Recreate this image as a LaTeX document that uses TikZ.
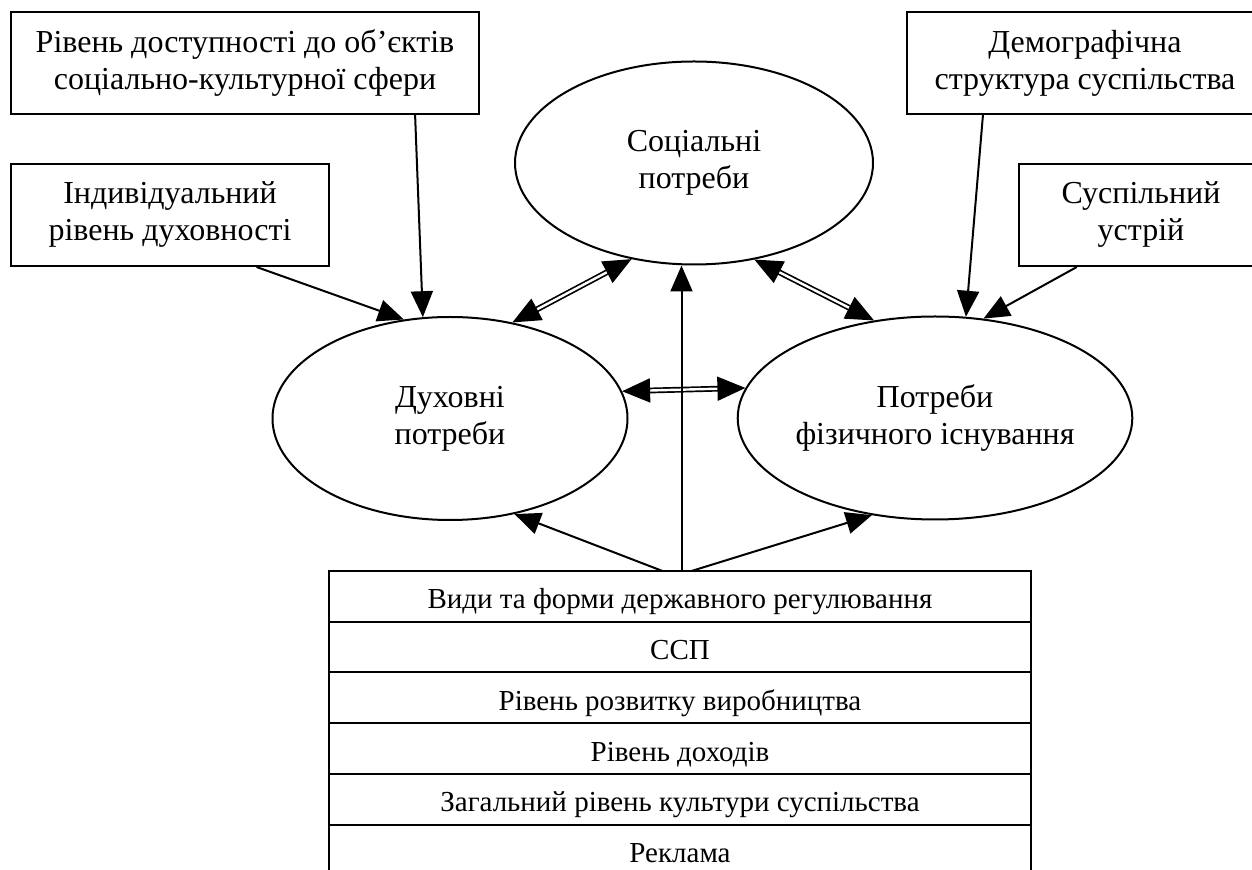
\documentclass[tikz,border=0pt]{standalone}
\usepackage{fontspec}
\setmainfont{Liberation Serif}
\usetikzlibrary{positioning}
\usetikzlibrary{shapes.geometric}
\usetikzlibrary{arrows.meta}

\begin{document}
\begin{tikzpicture}[scale=0.5,
  every node/.style={font=\fontsize{16}{18.5}\selectfont, align=center},
  potreba/.style={ellipse, draw=black, line width=1pt, minimum width=178pt, minimum height=101.5pt, inner sep=0pt},
  chynnyk/.style={rectangle, draw=black, line width=1pt, minimum height=51pt, inner sep=0pt},
  ryadok/.style={rectangle, draw=black, line width=1pt, minimum width=351pt, minimum height=25.35pt, inner sep=0pt, outer sep=0pt, text height=12.65pt, text depth=0pt, font=\fontsize{14.5}{17}\selectfont},
  strilka/.style={line width=1pt, -{Triangle[length=13pt, width=11pt]}},
  dvi/.style={double, double distance=1.2pt, line width=0.85pt, {Triangle[length=14pt, width=12pt]}-{Triangle[length=14pt, width=12pt]}}]
\useasboundingbox (0pt, 0pt) rectangle (1252pt, -870pt);
% needs
\node (soc) [potreba, minimum width=179pt] at (694pt, -163pt) {Соціальні\\потреби};
\node (dukh) [potreba, minimum width=177.5pt] at (450pt, -418.5pt) {Духовні\\потреби};
\node (fiz) [potreba] at (935pt, -418pt) {Потреби\\фізичного існування};
% factors
\node (dost) [chynnyk, minimum width=234pt] at (245pt, -63pt) {Рівень доступності до об’єктів\\соціально-культурної сфери};
\node (indyv) [chynnyk, minimum width=159pt] at (170pt, -215pt) {Індивідуальний\\рівень духовності};
\node (demo) [chynnyk, minimum width=178pt] at (1085pt, -63pt) {Демографічна\\структура суспільства};
\node (ustr) [chynnyk, minimum width=122pt] at (1141pt, -215pt) {Суспільний\\устрій};
% table
\node (vydy) [ryadok] at (680pt, -596.35pt) {Види та форми державного регулювання};
\node (ssp) [ryadok] at (680pt, -647.05pt) {ССП};
\node (vyrob) [ryadok] at (680pt, -697.75pt) {Рівень розвитку виробництва};
\node (dokh) [ryadok] at (680pt, -748.45pt) {Рівень доходів};
\node (kult) [ryadok] at (680pt, -799.15pt) {Загальний рівень культури суспільства};
\node (rekl) [ryadok] at (680pt, -849.85pt) {Реклама};
% arrows
\draw [strilka] (indyv.-31) to (dukh.115);
\draw [strilka] (dost.-17.7) to (dukh.105);
\draw [strilka] (demo.-153.4) to (fiz.73.8);
\draw [strilka] (ustr.-141.9) to (fiz.64.5);
\draw [dvi] (dukh.57) to (soc.-123.2);
\draw [dvi] (soc.-58) to (fiz.122);
\draw [dvi] (dukh.9.5) to (fiz.171.5);
\draw [strilka] ([xshift=1.5pt]vydy.north) to ([xshift=1.5pt]vydy.north |- soc.south);
\draw [strilka] ([xshift=-17.5pt]vydy.north) to (dukh.-56.6);
\draw [strilka] ([xshift=11.5pt]vydy.north) to (fiz.-123.2);
\end{tikzpicture}
\end{document}
